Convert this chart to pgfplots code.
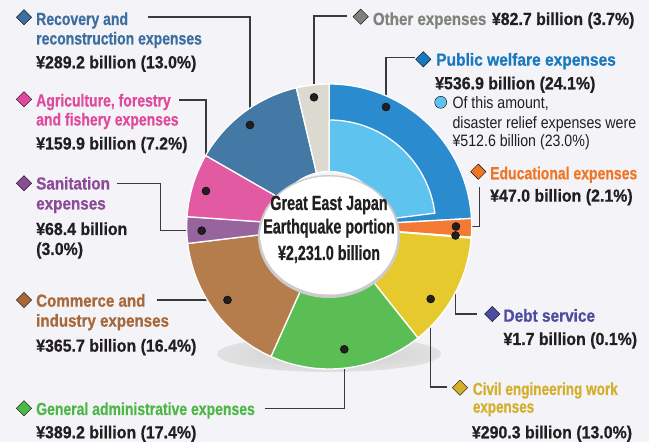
\documentclass[border=0pt]{standalone}
\usepackage{pgfplots}
\pgfplotsset{compat=1.18}
\usepackage{pgfplotstable}
\usepackage{fontspec}
\setmainfont{Liberation Sans}
\newfontfamily\fcB{Liberation Sans}[FakeStretch=0.80, BoldFeatures={FakeBold=0.6}]
\newfontfamily\fcV{Liberation Sans}[FakeStretch=0.91, BoldFeatures={FakeBold=0.6}]
\newfontfamily\fcI{Liberation Sans}[FakeStretch=0.70, BoldFeatures={FakeBold=0.6}]
\newfontfamily\fcR{Liberation Sans}[FakeStretch=0.86]

\definecolor{bgc}{HTML}{F4F4F8}
\definecolor{txt}{HTML}{231F20}
\definecolor{leadc}{HTML}{3A3A3A}
% segment colours
\definecolor{segPW}{HTML}{2A8CCE}
\definecolor{segDR}{HTML}{5EC3EF}
\definecolor{segED}{HTML}{F27A35}
\definecolor{segDS}{HTML}{5050A8}
\definecolor{segCE}{HTML}{E6C92C}
\definecolor{segGA}{HTML}{5BBE55}
\definecolor{segCI}{HTML}{B57D4C}
\definecolor{segSA}{HTML}{98649E}
\definecolor{segAG}{HTML}{E25AA2}
\definecolor{segRR}{HTML}{4478A5}
\definecolor{segOT}{HTML}{DCDAD0}
% label colours
\definecolor{tPW}{HTML}{1878C0}
\definecolor{tED}{HTML}{F07526}
\definecolor{tDS}{HTML}{4C4CA0}
\definecolor{tCE}{HTML}{D4AF2B}
\definecolor{tGA}{HTML}{4DB748}
\definecolor{tCI}{HTML}{A8683A}
\definecolor{tSA}{HTML}{8C4A98}
\definecolor{tAG}{HTML}{E04A9C}
\definecolor{tRR}{HTML}{3C6E9F}
\definecolor{tOT}{HTML}{7E847D}

\newcommand\segcol[1]{\ifcase#1 segPW\or segED\or segDS\or segCE\or segGA\or segCI\or segSA\or segAG\or segRR\or segOT\or segDR\fi}

\pgfdeclareradialshading{ringshadow}{\pgfpoint{0bp}{0bp}}{color(0bp)=(black!20); color(30bp)=(black!10); color(50bp)=(bgc)}
\pgfdeclareradialshading{knob}{\pgfpoint{-8bp}{8bp}}{color(0bp)=(white); color(34bp)=(white); color(46bp)=(black!8); color(50bp)=(black!20)}

% ring data: centre, cumulative share before the segment (%), share (%), radii (px), colour index
\pgfplotstableread{
cx cy cum pct rin rout ci
329.2 226.5 0.0 24.1 55 142.5 0
329.2 226.5 24.1 2.1 55 142.5 1
329.2 226.5 26.2 0.1 55 142.5 2
329.2 226.5 26.3 13.0 55 142.5 3
329.2 226.5 39.3 17.4 55 142.5 4
329.2 226.5 56.7 16.4 55 142.5 5
329.2 226.5 73.1 3.0 55 142.5 6
329.2 226.5 76.1 7.2 55 142.5 7
329.2 226.5 83.3 13.0 55 142.5 8
329.2 226.5 96.3 3.7 55 142.5 9
329.2 226.5 0.0 23.0 55 106.5 10
}\ringdata

\tikzset{
 lab/.style={anchor=base west, inner sep=0pt, font=\fcB\bfseries\fontsize{17.5bp}{20bp}\selectfont},
 val/.style={anchor=base west, inner sep=0pt, font=\fcV\bfseries\fontsize{17.5bp}{20bp}\selectfont, text=txt},
 reg/.style={anchor=base west, inner sep=0pt, font=\fcR\fontsize{16.5bp}{19bp}\selectfont, text=txt},
 ctr/.style={anchor=base, inner sep=0pt, font=\fcI\bfseries\fontsize{20.5bp}{22bp}\selectfont, text=txt},
}
\newcommand\sx[2]{\scalebox{#1}[1]{#2}}
\pgfplotsset{
 lead/.style={draw=leadc, line width=1.3bp, mark=none, sharp plot},
 dia/.style={only marks, mark=square*, mark size=5.4bp, mark options={rotate=45, draw=none, fill=#1}},
}

\begin{document}
\begin{tikzpicture}
\begin{axis}[
 x=1bp, y=1bp, xmin=0, xmax=649, ymin=0, ymax=442, y dir=reverse,
 hide axis, scale only axis, clip=false, set layers,
]
\begin{pgfonlayer}{axis background}
\fill[bgc] (0,0) rectangle (649,442);
\shade[shading=ringshadow] (329,354) ellipse[x radius=112bp, y radius=18bp];
\end{pgfonlayer}

% donut segments
\addplot[scatter, only marks, mark=*, mark size=0.01bp,
 point meta=\coordindex,
 visualization depends on={\thisrow{cum}\as\cum},
 visualization depends on={\thisrow{pct}\as\pct},
 visualization depends on={\thisrow{rin}\as\ri},
 visualization depends on={\thisrow{rout}\as\ro},
 visualization depends on={\thisrow{ci}\as\cival},
 scatter/@pre marker code/.code={%
   \pgfmathsetmacro\sa{90-3.6*\cum}%
   \pgfmathsetmacro\ea{90-3.6*(\cum+\pct)}%
   \pgfmathtruncatemacro\cin{round(\cival)}%
   \edef\sc{\segcol{\cin}}%
   \path[fill=\sc, draw=white, line width=1.3bp, line join=round]
     (\sa:\ro bp) arc[start angle=\sa, end angle=\ea, radius=\ro bp]
     -- (\ea:\ri bp) arc[start angle=\ea, end angle=\sa, radius=\ri bp] -- cycle;
 },
 scatter/@post marker code/.code={},
] table[x=cx, y=cy] {\ringdata};

% centre knob
\begin{pgfonlayer}{axis foreground}
\fill[black!20] (329,236.5) ellipse[x radius=71bp, y radius=61.5bp];
\shade[shading=knob] (329,235.5) ellipse[x radius=68.5bp, y radius=59bp];
\node[ctr] at (329,210) {Great East Japan};
\node[ctr] at (329,233.5) {Earthquake portion};
\node[ctr] at (329,260) {¥2,231.0 billion};
\end{pgfonlayer}

% leader lines
\addplot[lead] coordinates {(148,17) (250,17) (250,125)};
\addplot[lead] coordinates {(179,100) (206,100) (206,191)};
\addplot[lead] coordinates {(117,183.3) (160.7,183.3) (160.7,230.7) (201.7,230.7)};
\addplot[lead] coordinates {(156.7,300) (227.5,300)};
\addplot[lead] coordinates {(265,408.3) (344.3,408.3) (344.3,349.3)};
\addplot[lead] coordinates {(447.3,387) (430.7,387) (430.7,299)};
\addplot[lead] coordinates {(477,314) (455.5,314) (455.5,235.5)};
\addplot[lead] coordinates {(479.3,187.3) (479.3,226.5) (456,226.5)};
\addplot[lead] coordinates {(415,57.3) (386,57.3) (386,107)};
\addplot[lead] coordinates {(347,16) (314,16) (314,97.3)};
% leader dots
\addplot[only marks, mark=*, mark size=4bp, mark options={draw=none, fill=txt}] coordinates {
 (250,125) (314,97.3) (386,107) (206,191) (201.7,230.7) (227.5,300)
 (344.3,349.3) (430.7,299) (456,226.5) (455.5,235.5)};

% diamonds
\addplot[dia=tRR] coordinates {(24,17.3)};
\addplot[dia=tAG] coordinates {(24,99.3)};
\addplot[dia=tSA] coordinates {(24,183.3)};
\addplot[dia=tCI] coordinates {(24,300)};
\addplot[dia=tGA] coordinates {(24,408.3)};
\addplot[dia=tDS] coordinates {(492.3,314)};
\addplot[dia=tCE] coordinates {(460,387.7)};
\addplot[dia=tED] coordinates {(478.3,171.7)};
\addplot[dia=tOT] coordinates {(360.7,16.7)};
\addplot[dia=tPW] coordinates {(423.3,59.3)};
\addplot[only marks, mark=*, mark size=6bp, mark options={draw=none, fill=segDR}] coordinates {(440.7,102.3)};

% labels
\node[lab, text=tRR] at (36,25) {Recovery and};
\node[lab, text=tRR] at (36,44.5) {reconstruction expenses};
\node[val] at (36,68.3) {¥289.2 billion (13.0\%)};

\node[lab, text=tAG] at (36,106.5) {Agriculture, forestry};
\node[lab, text=tAG] at (36,125.5) {and fishery expenses};
\node[val] at (36,149.5) {¥159.9 billion (7.2\%)};

\node[lab, text=tSA] at (36,189.5) {\sx{1.09}{Sanitation}};
\node[lab, text=tSA] at (36,209.5) {\sx{1.09}{expenses}};
\node[val] at (36,235) {¥68.4 billion};
\node[val] at (36,255) {(3.0\%)};

\node[lab, text=tCI] at (36,306.7) {\sx{1.08}{Commerce and}};
\node[lab, text=tCI] at (36,326.7) {\sx{1.08}{industry expenses}};
\node[val] at (36,351.7) {¥365.7 billion (16.4\%)};

\node[lab, text=tGA] at (36,415) {General administrative expenses};
\node[val] at (36,438.3) {¥389.2 billion (17.4\%)};

\node[lab, text=tOT] at (372.7,25) {\sx{1.08}{Other expenses}};
\node[val] at (491.7,25) {¥82.7 billion (3.7\%)};

\node[lab, text=tPW] at (436,65.7) {\sx{1.11}{Public welfare expenses}};
\node[val] at (435,89.3) {¥536.9 billion (24.1\%)};
\node[reg] at (452.3,108.3) {Of this amount,};
\node[reg] at (452.3,128.3) {disaster relief expenses were};
\node[reg] at (452.3,146.7) {¥512.6 billion (23.0\%)};

\node[lab, text=tED] at (490,179.3) {Educational expenses};
\node[val] at (490,201.7) {¥47.0 billion (2.1\%)};

\node[lab, text=tDS] at (503.3,321.7) {\sx{1.1}{Debt service}};
\node[val] at (503.3,345) {¥1.7 billion (0.1\%)};

\node[lab, text=tCE] at (472.7,395) {\sx{0.97}{Civil engineering work}};
\node[lab, text=tCE] at (472.7,412.7) {\sx{0.96}{expenses}};
\node[val] at (471.7,438.3) {¥290.3 billion (13.0\%)};
\end{axis}
\end{tikzpicture}
\end{document}
